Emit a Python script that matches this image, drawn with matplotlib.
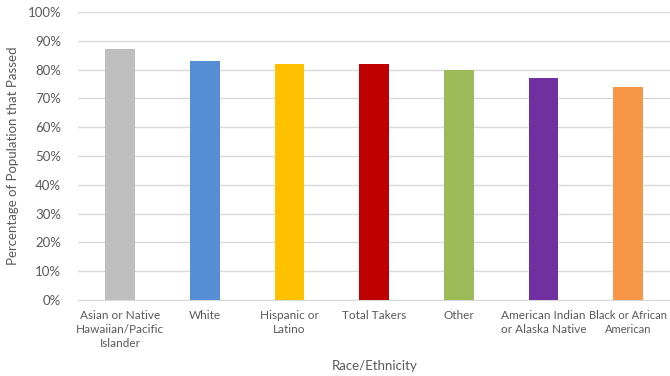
import matplotlib.pyplot as plt
from matplotlib.ticker import PercentFormatter

# Data
groups = ["Asian or Native\nHawaiian/Pacific\nIslander", "White", "Hispanic or\nLatino",
          "Total Takers", "Other", "American Indian\nor Alaska Native", "Black or African\nAmerican"]
pass_rate = [87, 83, 82, 82, 80, 77, 74]
colors = ["#bfbfbf", "#558ed5", "#ffc000", "#c00000", "#9bbb59", "#7030a0", "#f79646"]

plt.rcParams['font.family'] = ['Lato', 'DejaVu Sans']

fig = plt.figure(figsize=(6.7, 3.76), dpi=100)
ax = fig.add_axes([0.116, 0.202, 0.885, 0.766])

x = range(len(groups))
ax.bar(x, pass_rate, width=0.35, color=colors, zorder=3)

ax.set_xlim(-0.5, len(groups) - 0.5)
ax.set_ylim(0, 100)
ax.set_yticks(range(0, 101, 10))
ax.yaxis.set_major_formatter(PercentFormatter(decimals=0))
ax.set_xticks(list(x))
ax.set_xticklabels(groups, fontsize=8.5, color="#595959", linespacing=1.35)
ax.tick_params(axis='y', labelsize=9.5, colors="#595959", length=0, pad=12)
ax.tick_params(axis='x', length=0, pad=7)

# last label sits right at the edge, so make it a touch smaller
ax.get_xticklabels()[-1].set_fontsize(8.0)

ax.grid(axis='y', color="#d9d9d9", linewidth=1, zorder=0)
for side in ['top', 'right', 'left']:
    ax.spines[side].set_visible(False)
ax.spines['bottom'].set_color("#d9d9d9")

ax.set_ylabel("Percentage of Population that Passed", fontsize=9.5, color="#595959", labelpad=6)
ax.set_xlabel("Race/Ethnicity", fontsize=9.5, color="#595959", labelpad=8)

fig.savefig("out.png", dpi=100)
